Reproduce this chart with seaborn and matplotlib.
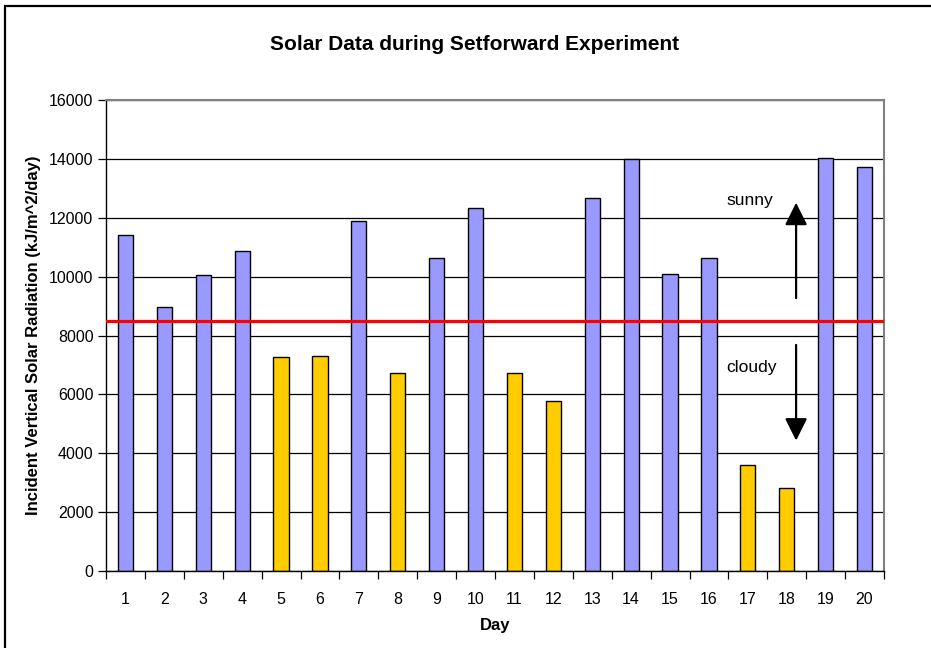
import matplotlib
matplotlib.use("Agg")
import matplotlib.pyplot as plt
from matplotlib.patches import Rectangle
import seaborn as sns
import pandas as pd

# values
days = [str(d) for d in range(1, 21)]
radiation = [11410, 8970, 10040, 10870, 7260, 7310, 11900, 6730, 10620, 12330,
             6730, 5770, 12660, 13990, 10090, 10620, 3610, 2820, 14030, 13730]
threshold = 8480

sunny_colour = "#9999FF"
cloudy_colour = "#FFCC00"

sns.set_theme(style="white")
plt.rcParams["font.family"] = ["Liberation Sans", "DejaVu Sans"]
plt.rcParams.update({"text.color": "black", "axes.labelcolor": "black",
                     "xtick.color": "black", "ytick.color": "black"})

df = pd.DataFrame({"day": days, "radiation": radiation})
palette = [sunny_colour if v > threshold else cloudy_colour for v in radiation]

W, H = 931, 648
fig = plt.figure(figsize=(W / 100, H / 100), dpi=100)
fig.patch.set_facecolor("white")
ax = fig.add_axes([106 / W, 1 - 571 / H, (884 - 106) / W, (571 - 100) / H])

sns.barplot(data=df, x="day", y="radiation", hue="day", palette=palette,
            legend=False, width=0.39, edgecolor="black", linewidth=1.0,
            saturation=1, ax=ax)

# threshold between sunny and cloudy days
ax.axhline(threshold, color="#FF0000", lw=2.3, zorder=5)

ax.set_ylim(0, 16000)
ax.set_xlim(-0.5, 19.5)
ax.set_yticks(range(0, 16001, 2000))
ax.yaxis.grid(True, color="black", lw=0.9)
ax.set_axisbelow(True)

# category ticks sit between the bars, like Excel
ax.set_xticks([i - 0.5 for i in range(21)], minor=True)
ax.tick_params(axis="x", which="major", length=0, pad=15, labelsize=11.5)
ax.tick_params(axis="x", which="minor", length=6, width=0.9, color="black", direction="out")
ax.tick_params(axis="y", length=6, width=0.9, color="black", direction="out", pad=3, labelsize=11.5)
ax.xaxis.set_ticks_position("bottom")
ax.yaxis.set_ticks_position("left")

for side in ["left", "bottom"]:
    ax.spines[side].set_color("black")
    ax.spines[side].set_linewidth(1.0)
for side in ["top", "right"]:
    ax.spines[side].set_color("#808080")
    ax.spines[side].set_linewidth(1.5)

ax.set_xlabel("Day", fontsize=12, fontweight="bold", labelpad=8)
ax.set_ylabel("Incident Vertical Solar Radiation (kJ/m^2/day)", fontsize=12,
              fontweight="bold", labelpad=6)
fig.text(475 / W, 1 - 44 / H, "Solar Data during Setforward Experiment",
         ha="center", va="center", fontsize=15, fontweight="bold")

# sunny / cloudy annotations
arrow = dict(arrowstyle="-|>", lw=1.6, color="black", mutation_scale=34,
             shrinkA=0, shrinkB=0)
ax.annotate("", xy=(17.24, 12510), xytext=(17.24, 9270), arrowprops=arrow)
ax.annotate("", xy=(17.24, 4430), xytext=(17.24, 7680), arrowprops=arrow)
ax.text(16.05, 12600, "sunny", ha="center", va="center", fontsize=12.5)
ax.text(16.1, 6900, "cloudy", ha="center", va="center", fontsize=12.5)

# chart frame (runs off the right and bottom edges in the original)
fig.add_artist(Rectangle((5 / W, -0.1), 1.2, 1.1 - 6.5 / H, transform=fig.transFigure,
                         fill=False, edgecolor="black", lw=1.6))

fig.savefig("out.png", dpi=100)
